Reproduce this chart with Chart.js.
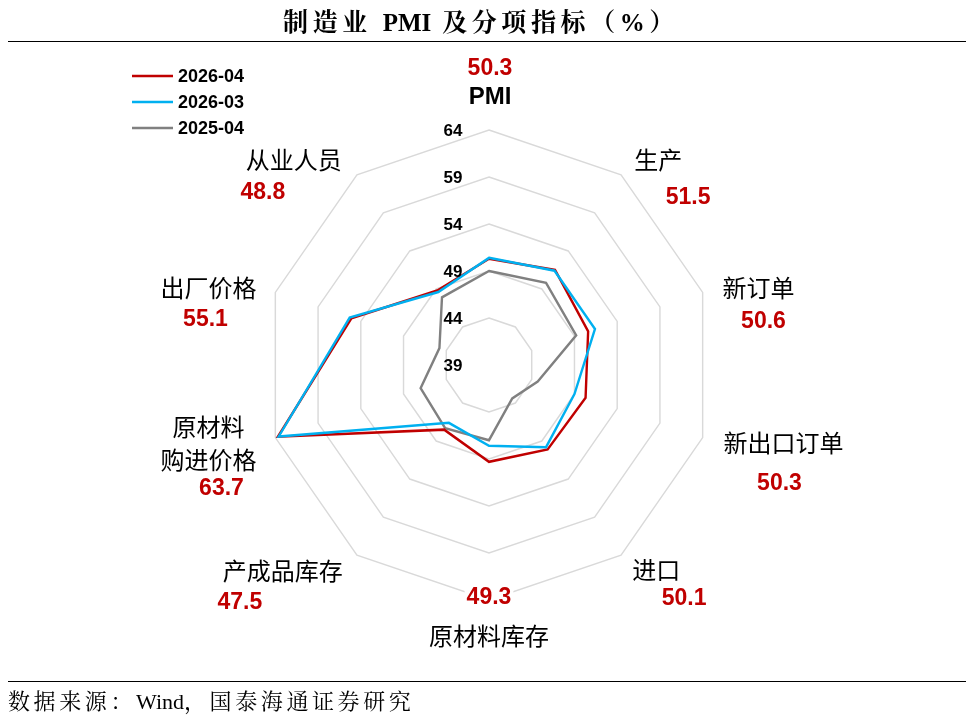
<!DOCTYPE html>
<html>
<head>
<meta charset="utf-8">
<script src="https://cdn.jsdelivr.net/npm/chart.js@4.4.1/dist/chart.umd.min.js"></script>
<style>
  html, body { margin: 0; padding: 0; background: #ffffff; }
  #wrap { position: relative; width: 974px; height: 720px; overflow: hidden; background: #fff; }
  #chart { position: absolute; left: 0; top: 0; }
  #title {
    position: absolute; left: 0; top: 8px; width: 962px; text-align: center;
    font-family: "Liberation Serif", "Noto Serif CJK SC", "Noto Sans CJK SC", serif;
    font-weight: bold; font-size: 25px; line-height: 30px; letter-spacing: 4.6px; color: #000;
    white-space: nowrap;
  }
  .lat { letter-spacing: 0; }
  .rule { position: absolute; left: 8px; width: 958px; height: 0; border-top: 1.6px solid #000; }
  #source {
    position: absolute; left: 8px; top: 687px;
    font-family: "Liberation Serif", "Noto Serif CJK SC", "Noto Sans CJK SC", serif;
    font-size: 22px; line-height: 30px; letter-spacing: 3.6px; color: #000; white-space: nowrap;
  }
</style>
</head>
<body>
<div id="wrap">
  <canvas id="chart" width="974" height="720"></canvas>
  <div id="title">制造业 <span class="lat">PMI</span> 及分项指标（%）</div>
  <div class="rule" style="top:41px"></div>
  <div class="rule" style="top:681px"></div>
  <div id="source">数据来源：<span class="lat">Wind</span>，国泰海通证券研究</div>
</div>
<script>
// ---------------- data ----------------
const categories = ['PMI', '生产', '新订单', '新出口订单', '进口', '原材料库存', '产成品库存', ['原材料', '购进价格'], '出厂价格', '从业人员'];
const seriesNames = ['2026-04', '2026-03', '2025-04'];
const apr2026 = [50.3, 51.5, 50.6, 50.3, 50.1, 49.3, 47.5, 63.7, 55.1, 48.8];
const mar2026 = [50.4, 51.4, 51.4, 49.0, 49.8, 47.6, 46.6, 63.6, 55.3, 48.6];
const apr2025 = [49.0, 49.8, 49.2, 44.7, 43.4, 47.0, 47.3, 47.0, 44.8, 47.9];
const tickValues = [39, 44, 49, 54, 59, 64];

// ---------------- styling / layout ----------------
const colors = ['#C00000', '#00B0F0', '#808080'];
const drawOrder = [1, 0, 2]; // blue on top, then red, gray at bottom
const X_SQUEEZE = 0.956;     // the reference plot area is slightly narrower than tall
const LATIN_BOLD = '"Liberation Sans", Arial, Helvetica, sans-serif';
const CJK = '"Noto Sans CJK SC", "Noto Sans CJK TC", sans-serif';
// offsets (px) of category name / value text relative to the outer vertex of each spoke
const labelOffsets = [
  { n: [1, -34],  v: [1, -62] },
  { n: [31, -15], v: [61, 22] },
  { n: [46, -5],  v: [51, 28] },
  { n: [71, 5],   v: [67, 45] },
  { n: [29, 15],  v: [57, 43] },
  { n: [0, 36],   v: [0, -3] },
  { n: [-68, 16], v: [-111, 47] },
  { n: [-57, -11], v: [-44, 50] },
  { n: [-57, -5], v: [-60, 26] },
  { n: [-57, -15], v: [-88, 17] }
];

const textPlugin = {
  id: 'textPlugin',
  beforeDraw(chart) {
    const s = chart.scales.r;
    const ctx = chart.ctx;
    ctx.save();
    ctx.translate(s.xCenter, 0);
    ctx.scale(X_SQUEEZE, 1);
    ctx.translate(-s.xCenter, 0);
  },
  afterDatasetsDraw(chart) {
    const scale = chart.scales.r;
    const ctx = chart.ctx;
    ctx.restore();
    const R = scale.drawingArea;
    ctx.save();
    ctx.textAlign = 'center';
    ctx.textBaseline = 'middle';
    // tick labels
    ctx.font = 'bold 17px ' + LATIN_BOLD;
    ctx.fillStyle = '#000';
    tickValues.forEach(v => {
      const d = scale.getDistanceFromCenterForValue(v);
      ctx.fillText(String(v), scale.xCenter - 36, scale.yCenter - d + 1);
    });
    const values = chart.data.datasets[0].data;
    chart.data.labels.forEach((lab, i) => {
      const p = scale.getPointPosition(i, R);
      const off = labelOffsets[i];
      // value (red)
      const vt = values[i].toFixed(1);
      ctx.font = 'bold 23px ' + LATIN_BOLD;
      const vw = ctx.measureText(vt).width;
      const vx = p.x + off.v[0], vy = p.y + off.v[1];
      ctx.fillStyle = '#fff';
      ctx.fillRect(vx - vw / 2 - 2, vy - 12, vw + 4, 24);
      ctx.fillStyle = '#C00000';
      ctx.fillText(vt, vx, vy + 1);
      // name (black)
      const lines = Array.isArray(lab) ? lab : [lab];
      lines.forEach((ln, k) => {
        const latin = /^[\x00-\x7F]+$/.test(ln);
        ctx.font = latin ? ('bold 24px ' + LATIN_BOLD) : ('24px ' + CJK);
        ctx.fillStyle = '#000';
        ctx.fillText(ln, p.x + off.n[0], p.y + off.n[1] + k * 33 + (latin ? 1 : 0));
      });
    });
    // legend
    chart.data.datasets.forEach((ds, k) => {
      const y = 76 + k * 26;
      ctx.strokeStyle = ds.borderColor;
      ctx.lineWidth = 2.5;
      ctx.beginPath();
      ctx.moveTo(132, y);
      ctx.lineTo(173, y);
      ctx.stroke();
      ctx.font = 'bold 18px ' + LATIN_BOLD;
      ctx.fillStyle = '#000';
      ctx.textAlign = 'left';
      ctx.fillText(ds.label, 178, y + 1);
    });
    ctx.restore();
  }
};

const seriesData = [apr2026, mar2026, apr2025];
const datasets = seriesNames.map((name, k) => ({
  label: name,
  data: seriesData[k],
  borderColor: colors[k],
  backgroundColor: 'rgba(0,0,0,0)',
  borderWidth: 2.5,
  pointRadius: 0,
  pointHoverRadius: 0,
  fill: false,
  tension: 0,
  order: drawOrder[k]
}));

new Chart(document.getElementById('chart'), {
  type: 'radar',
  data: { labels: categories, datasets: datasets },
  options: {
    responsive: false,
    animation: false,
    devicePixelRatio: 1,
    layout: { padding: { left: 254, right: 250, top: 130, bottom: 120 } },
    plugins: { legend: { display: false }, tooltip: { enabled: false }, title: { display: false } },
    scales: {
      r: {
        min: 39,
        max: 64,
        ticks: { display: false, stepSize: 5 },
        afterBuildTicks(scale) { scale.ticks = tickValues.map(v => ({ value: v })); },
        grid: { color: '#d9d9d9', lineWidth: 1.5, circular: false },
        angleLines: { display: false },
        pointLabels: { display: false }
      }
    }
  },
  plugins: [textPlugin]
});
</script>
</body>
</html>
